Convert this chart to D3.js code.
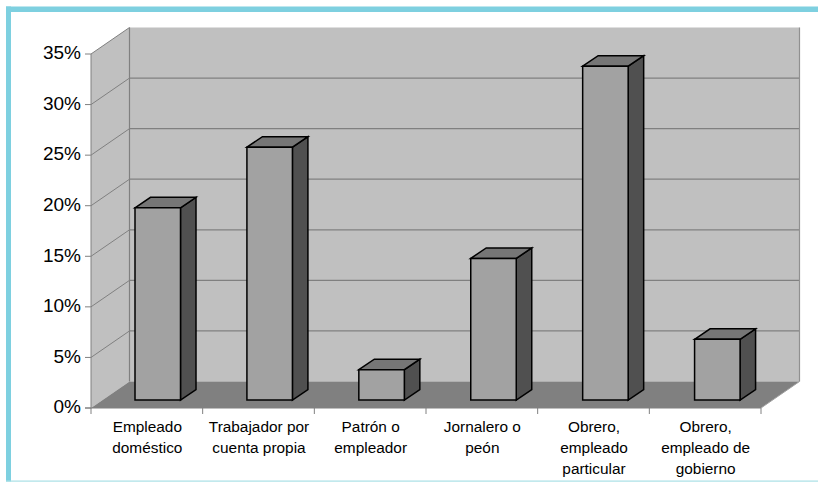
<!DOCTYPE html>
<html><head><meta charset="utf-8">
<script src="https://cdnjs.cloudflare.com/ajax/libs/d3/7.8.5/d3.min.js"></script>
<style>html,body{margin:0;padding:0;background:#fff}svg{display:block}text{font-family:"Liberation Sans",Arial,sans-serif;fill:#000}</style>
</head><body><svg id="c" width="818" height="482"></svg>
<script>
const categories=[["Empleado","doméstico"],["Trabajador por","cuenta propia"],["Patrón o","empleador"],["Jornalero o","peón"],["Obrero,","empleado","particular"],["Obrero,","empleado de","gobierno"]];
const values=[19,25,3,14,33,6];
const yTicks=[0,5,10,15,20,25,30,35];

const svg=d3.select("#c");
const x=d3.scaleBand().domain(d3.range(categories.length)).range([91,761]);
const y=d3.scaleLinear().domain([0,35]).range([408,54]);
const depth={dx:38.5,dy:-26.5}, bd={dx:15.5,dy:-10.5};
const poly=(pts,fill,stroke,sw)=>svg.append("polygon").attr("points",pts.map(p=>p.join(",")).join(" ")).attr("fill",fill).attr("stroke",stroke||"none").attr("stroke-width",sw||0).attr("stroke-linejoin","miter");
const line=(a,b,c,w)=>svg.append("line").attr("x1",a[0]).attr("y1",a[1]).attr("x2",b[0]).attr("y2",b[1]).attr("stroke",c).attr("stroke-width",w);

// frame
svg.append("rect").attr("x",6).attr("y",6.5).attr("width",812).attr("height",5.5).attr("fill","#7ed0e0");
svg.append("rect").attr("x",6).attr("y",6.5).attr("width",5).attr("height",475).attr("fill","#7ed0e0");
svg.append("rect").attr("x",6).attr("y",480.5).attr("width",812).attr("height",1.2).attr("fill","#a9e0e6");

const X0=x.range()[0],X1=x.range()[1],Y0=y(0),Y1=y(35);
// walls
poly([[X0,Y0],[X0+depth.dx,Y0+depth.dy],[X0+depth.dx,Y1+depth.dy],[X0,Y1]],"#c0c0c0");
poly([[X0+depth.dx,Y0+depth.dy],[X1+depth.dx,Y0+depth.dy],[X1+depth.dx,Y1+depth.dy],[X0+depth.dx,Y1+depth.dy]],"#c0c0c0");
// floor
poly([[X0,Y0],[X1,Y0],[X1+depth.dx,Y0+depth.dy],[X0+depth.dx,Y0+depth.dy]],"#808080");
// grid
yTicks.filter(t=>t>0).forEach(t=>{
  line([X0,y(t)],[X0+depth.dx,y(t)+depth.dy],"#808080",1);
  if(t<35) line([X0+depth.dx,y(t)+depth.dy],[X1+depth.dx,y(t)+depth.dy],"#808080",1.2);
});
line([X0+depth.dx,Y1+depth.dy],[X0+depth.dx,Y0+depth.dy],"#808080",1.2);
line([X1+depth.dx,Y1+depth.dy],[X1+depth.dx,Y0+depth.dy],"#909090",1.2);
line([X1,Y0],[X1+depth.dx,Y0+depth.dy],"#a0a0a0",1);
// axes
line([X0,Y1],[X0,Y0+0.5],"#808080",1);
line([X0-6,Y0],[X1,Y0],"#808080",1);
yTicks.forEach(t=>{
  line([X0-6,y(t)],[X0,y(t)],"#808080",1);
  svg.append("text").attr("x",81).attr("y",y(t)-1.5).attr("dy","0.36em").attr("text-anchor","end").attr("font-size",19).text(t+"%");
});
d3.range(categories.length+1).forEach(i=>{
  const px=i<categories.length?x(i):X1;
  line([px,Y0],[px,Y0+6],"#808080",1);
});
// labels
categories.forEach((c,i)=>{
  const t=svg.append("text").attr("text-anchor","middle").attr("font-size",15.4);
  c.forEach((s,j)=>t.append("tspan").attr("x",x(i)+x.bandwidth()/2+0.5).attr("y",432+j*21).text(s));
});
// bars
const barW=45.5, inset=44, floorLift=8;
values.forEach((v,i)=>{
  const l=x(i)+inset+i*0.25, r=l+barW;
  const B=y(0)-floorLift, T=y(v)-floorLift;
  poly([[r,T],[r+bd.dx,T+bd.dy],[r+bd.dx,B+bd.dy],[r,B]],"#505050","#000",1.5);
  poly([[l,T],[l+bd.dx,T+bd.dy],[r+bd.dx,T+bd.dy],[r,T]],"#767676","#000",1.5);
  poly([[l,T],[r,T],[r,B],[l,B]],"#a2a2a2","#000",1.5);
});
</script></body></html>
